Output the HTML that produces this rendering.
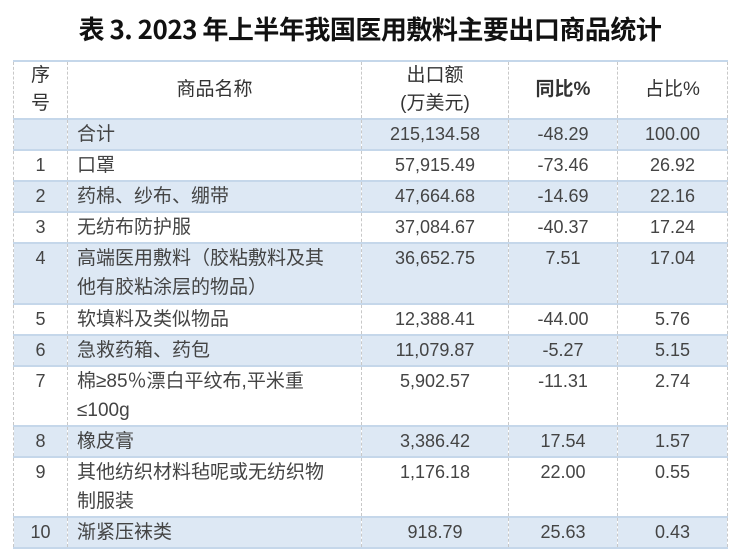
<!DOCTYPE html>
<html><head><meta charset="utf-8"><style>
html,body{margin:0;padding:0;background:#fff;}
body{width:750px;height:557px;position:relative;overflow:hidden;font-family:"Liberation Sans","Noto Sans CJK SC",sans-serif;}
#title{position:absolute;left:0;width:740px;top:10px;text-align:center;font-size:26px;font-weight:bold;color:#111;font-family:"Noto Sans CJK SC",sans-serif;letter-spacing:-0.5px;}
table{position:absolute;left:13px;top:60px;border-collapse:collapse;table-layout:fixed;width:714px;color:#444;font-size:18px;}
td{padding:0;border-left:1px dashed #c8c8c8;border-right:1px dashed #c8c8c8;border-top:2px solid #c5d7ea;border-bottom:2px solid #c5d7ea;text-align:center;vertical-align:top;line-height:29px;white-space:nowrap;overflow:hidden;}
td.n{text-align:left;padding-left:9px;font-size:19px;}
tr.s td{background:#dde8f4;}
tr.h td{vertical-align:middle;line-height:28px;color:#333;font-size:19px;}
</style></head><body>
<div id="title">表 3. 2023 年上半年我国医用敷料主要出口商品统计</div>
<table>
<colgroup><col style="width:54px"><col style="width:294px"><col style="width:147px"><col style="width:109px"><col style="width:110px"></colgroup>
<tr class="h" style="height:58px"><td>序<br>号</td><td>商品名称</td><td>出口额<br>(万美元)</td><td style="font-weight:bold">同比%</td><td>占比%</td></tr>
<tr class="s" style="height:28px"><td></td><td class="n">合计</td><td>215,134.58</td><td>-48.29</td><td>100.00</td></tr>
<tr style="height:30px"><td>1</td><td class="n">口罩</td><td>57,915.49</td><td>-73.46</td><td>26.92</td></tr>
<tr class="s" style="height:30px"><td>2</td><td class="n">药棉、纱布、绷带</td><td>47,664.68</td><td>-14.69</td><td>22.16</td></tr>
<tr style="height:31px"><td>3</td><td class="n">无纺布防护服</td><td>37,084.67</td><td>-40.37</td><td>17.24</td></tr>
<tr class="s" style="height:61px"><td>4</td><td class="n">高端医用敷料（胶粘敷料及其<br>他有胶粘涂层的物品）</td><td>36,652.75</td><td>7.51</td><td>17.04</td></tr>
<tr style="height:30px"><td>5</td><td class="n">软填料及类似物品</td><td>12,388.41</td><td>-44.00</td><td>5.76</td></tr>
<tr class="s" style="height:30px"><td>6</td><td class="n">急救药箱、药包</td><td>11,079.87</td><td>-5.27</td><td>5.15</td></tr>
<tr style="height:59px"><td>7</td><td class="n">棉≥85％漂白平纹布,平米重<br>≤100g</td><td>5,902.57</td><td>-11.31</td><td>2.74</td></tr>
<tr class="s" style="height:30px"><td>8</td><td class="n">橡皮膏</td><td>3,386.42</td><td>17.54</td><td>1.57</td></tr>
<tr style="height:60px"><td>9</td><td class="n">其他纺织材料毡呢或无纺织物<br>制服装</td><td>1,176.18</td><td>22.00</td><td>0.55</td></tr>
<tr class="s" style="height:28px"><td>10</td><td class="n">渐紧压袜类</td><td>918.79</td><td>25.63</td><td>0.43</td></tr>
</table>
</body></html>
